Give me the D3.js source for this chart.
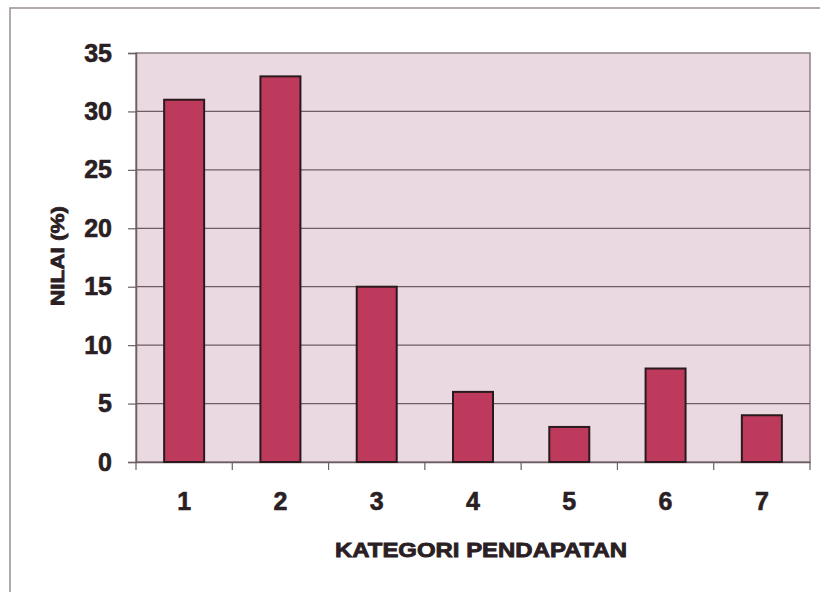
<!DOCTYPE html>
<html><head><meta charset="utf-8">
<script src="https://cdn.jsdelivr.net/npm/d3@7"></script>
<style>body{margin:0;background:#fff}svg{display:block}</style>
</head><body>
<svg id="c" width="820" height="592"></svg>
<script>
const categories = ["1","2","3","4","5","6","7"];
const values = [31, 33, 15, 6, 3, 8, 4];
const yTicks = [0,5,10,15,20,25,30,35];
const xTitle = "KATEGORI PENDAPATAN";
const yTitle = "NILAI (%)";

const svg = d3.select("#c");
const m = {left:136, top:53, right:810, bottom:462};
svg.append("rect").attr("x",10).attr("y",8).attr("width",830).attr("height",600)
  .attr("fill","#fff").attr("stroke","#9a8f93").attr("stroke-width",1.5);

const x = d3.scaleBand().domain(categories).range([m.left,m.right]).padding(0);
const y = d3.scaleLinear().domain([0,35]).range([m.bottom,m.top]);

svg.append("rect").attr("x",m.left).attr("y",m.top).attr("width",m.right-m.left).attr("height",m.bottom-m.top)
  .attr("fill","#ead9e0").attr("stroke","#8c7f85").attr("stroke-width",1.5);

svg.append("g").selectAll("line").data(yTicks.filter(d=>d>0 && d<35)).join("line")
  .attr("x1",m.left).attr("x2",m.right).attr("y1",d=>y(d)).attr("y2",d=>y(d))
  .attr("stroke","#6e5e64").attr("stroke-width",1.2);

const font = "'Liberation Sans', Arial, sans-serif";
const ink = "#2a2024";
const ya = svg.append("g").attr("transform",`translate(${m.left},0)`)
  .call(d3.axisLeft(y).tickValues(yTicks).tickSize(8).tickPadding(16));
ya.select(".domain").attr("stroke","#6e5e64").attr("stroke-width",1.5);
ya.selectAll(".tick line").attr("stroke","#6e5e64").attr("stroke-width",1.2);
ya.selectAll("text").attr("font-family",font).attr("font-weight","bold").attr("font-size",25)
  .attr("fill",ink).attr("stroke",ink).attr("stroke-width",0.6);

const xa = svg.append("g").attr("transform",`translate(0,${m.bottom})`)
  .call(d3.axisBottom(x).tickSize(0).tickPadding(30));
xa.select(".domain").attr("stroke","#6e5e64").attr("stroke-width",1.5);
xa.selectAll("text").attr("font-family",font).attr("font-weight","bold").attr("font-size",25)
  .attr("fill",ink).attr("stroke",ink).attr("stroke-width",0.6);
svg.append("g").selectAll("line").data(d3.range(categories.length+1)).join("line")
  .attr("x1",i=>m.left+i*x.step()).attr("x2",i=>m.left+i*x.step())
  .attr("y1",m.bottom).attr("y2",m.bottom+8).attr("stroke","#6e5e64").attr("stroke-width",1.2);

const bw = 40;
svg.append("g").selectAll("rect").data(values).join("rect")
  .attr("x",(d,i)=>x(categories[i])+x.bandwidth()/2-bw/2)
  .attr("y",d=>y(d)).attr("width",bw).attr("height",d=>y(0)-y(d))
  .attr("fill","#be3a5c").attr("stroke","#2a1a1e").attr("stroke-width",2);

svg.append("text").attr("x",481).attr("y",557).attr("text-anchor","middle")
  .attr("font-family",font).attr("font-weight","bold").attr("font-size",20).attr("fill",ink)
  .attr("stroke",ink).attr("stroke-width",0.8)
  .attr("textLength",292).attr("lengthAdjust","spacingAndGlyphs").text(xTitle);
svg.append("text").attr("transform","translate(64,256) rotate(-90)").attr("text-anchor","middle")
  .attr("font-family",font).attr("font-weight","bold").attr("font-size",19).attr("fill",ink)
  .attr("stroke",ink).attr("stroke-width",0.8)
  .attr("textLength",100).attr("lengthAdjust","spacingAndGlyphs").text(yTitle);
</script>
</body></html>
